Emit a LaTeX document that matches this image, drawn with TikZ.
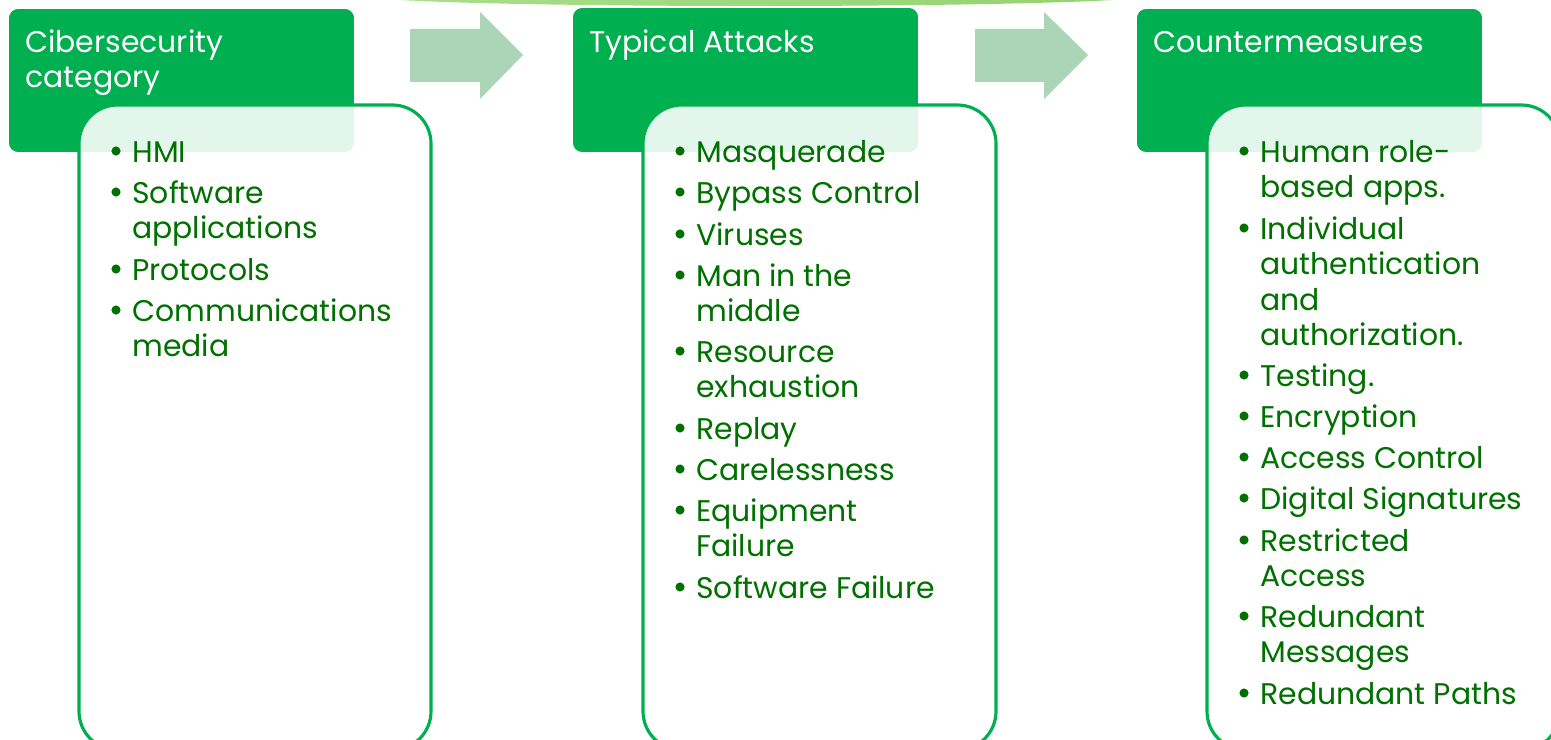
\documentclass[tikz,border=0pt]{standalone}
\usepackage{fontspec}
\setmainfont{Poppins}
\usetikzlibrary{calc,positioning}
\definecolor{hdgreen}{RGB}{0,176,80}
\definecolor{txtgreen}{RGB}{0,112,0}
\definecolor{arrowgreen}{RGB}{171,213,182}
\definecolor{arcleft}{RGB}{170,222,138}
\definecolor{arcright}{RGB}{148,210,112}
\tikzset{
  header/.style={fill=hdgreen, draw=white, line width=1pt, rounded corners=5.7pt},
  listbox/.style={fill=white, fill opacity=0.89, draw=hdgreen, line width=1.8pt, rounded corners=22pt},
  headtext/.style={white, anchor=north west, align=left, inner sep=0pt, font=\fontsize{17}{20}\selectfont},
  item/.style={txtgreen, anchor=north west, align=left, inner sep=0pt, font=\fontsize{17}{20.2}\selectfont},
  dot/.style={circle, fill=txtgreen, inner sep=0pt, minimum size=5.2pt},
  flowarrow/.style={fill=arrowgreen}
}

\begin{document}
\begin{tikzpicture}[x=0.02cm, y=-0.02cm]
\useasboundingbox (0,0) rectangle (1551,740);
\clip (0,0) rectangle (1551,740);
% arc at the top
\shade[left color=arcleft, right color=arcright] (395,-10) -- (1118,-10) -- (1113,0) .. controls (970,8) and (540,8) .. (400,0) -- cycle;
% arrows between the columns
\fill[flowarrow] (410,29) -- (480,29) -- (480,12) -- (523,55) -- (480,99) -- (480,82) -- (410,82) -- cycle;
\fill[flowarrow] (975,29) -- (1044,29) -- (1044,12) -- (1088,55) -- (1044,99) -- (1044,82) -- (975,82) -- cycle;
% headers
\draw[header] (8,8) rectangle (355,153);
\draw[header] (572,7) rectangle (919,153);
\draw[header] (1136,8) rectangle (1483,153);
\node[headtext] (h1) at (25,52-24.6) {\strut Cibersecurity\\category};
\node[headtext] (h2) at (589,52-24.6) {\strut Typical Attacks};
\node[headtext] (h3) at (1153,52-24.6) {\strut Countermeasures};
% list boxes
\draw[listbox] (79,105) rectangle (431,750);
\draw[listbox] (643,105) rectangle (996,750);
\draw[listbox] (1207,105) rectangle (1560,750);
% column 1
\foreach \y/\t [count=\i] in {162/HMI, 203/{Software\\applications}, 280/Protocols, 321/{Communications\\media}}{
  \node[dot] (d1-\i) at (116,\y-11) {};
  \node[item] (c1-\i) at (132,\y-24.85) {\strut\t};
}
% column 2
\foreach \y/\t [count=\i] in {162/Masquerade, 203/Bypass Control, 245/Viruses, 286/{Man in the\\middle}, 362/{Resource\\exhaustion}, 439/Replay, 480/Carelessness, 521/{Equipment\\Failure}, 598/Software Failure}{
  \node[dot] (d2-\i) at (680,\y-11) {};
  \node[item] (c2-\i) at (696,\y-24.85) {\strut\t};
}
% column 3
\foreach \y/\t [count=\i] in {162/{Human role-\\based apps.}, 239/{Individual\\authentication\\and\\authorization.}, 386/Testing., 427/Encryption, 468/Access Control, 509/Digital Signatures, 551/{Restricted\\Access}, 627/{Redundant\\Messages}, 704/Redundant Paths}{
  \node[dot] (d3-\i) at (1244,\y-11) {};
  \node[item] (c3-\i) at (1260,\y-24.85) {\strut\t};
}
\end{tikzpicture}
\end{document}
